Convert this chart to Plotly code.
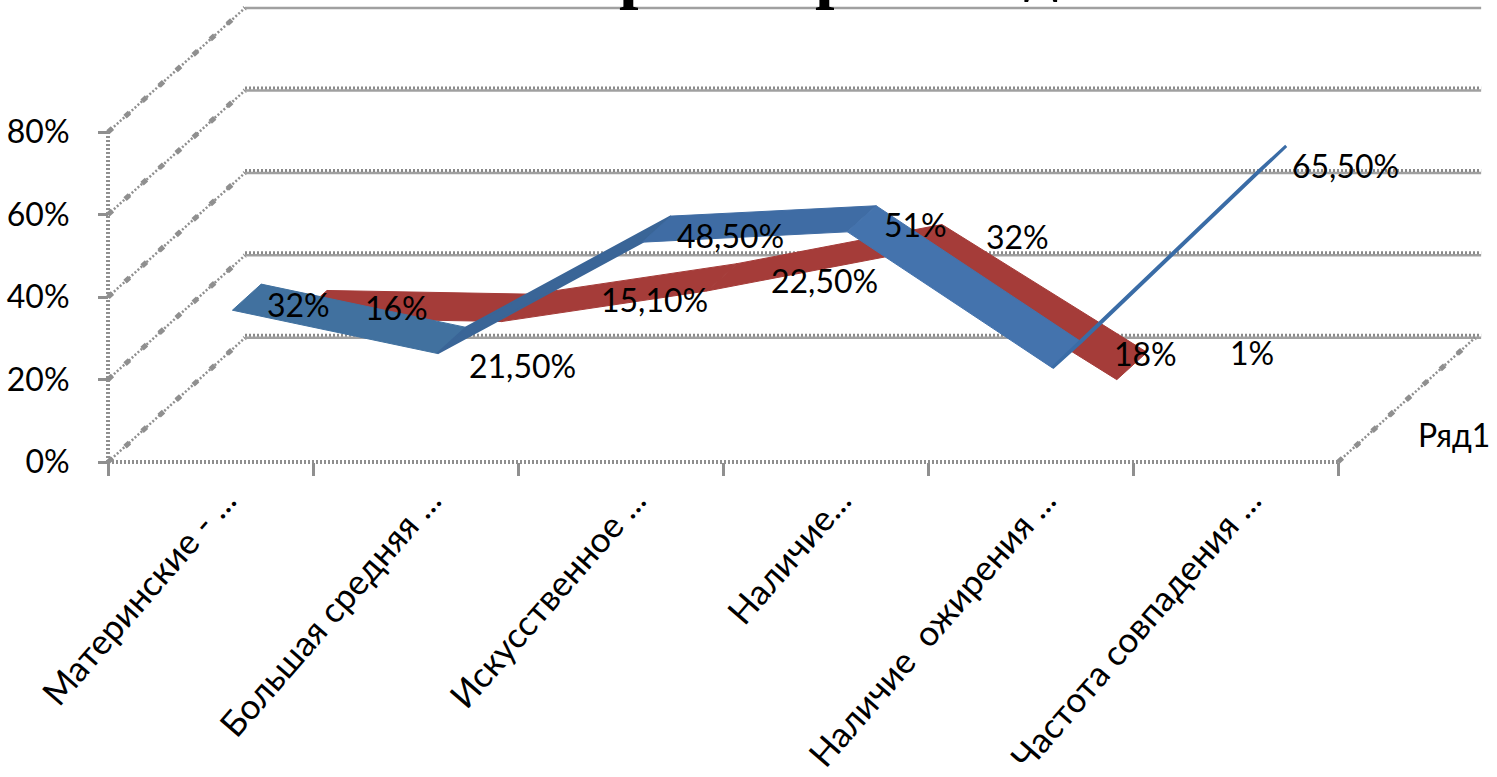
import plotly.graph_objects as go

# ---- data ----
categories = ["Материнские - ...", "Большая средняя ...", "Искусственное ...",
              "Наличие...", "Наличие  ожирения ...", "Частота совпадения ..."]
blue_values = [32, 21.5, 48.5, 51, 18, 65.5]
red_values = [16, 15.1, 22.5, 32, 1]
blue_labels = ["32%", "21,50%", "48,50%", "51%", "18%", "65,50%"]
red_labels = ["16%", "15,10%", "22,50%", "32%", "1%"]
y_ticks = [0, 20, 40, 60, 80]
y_tick_text = ["0%", "20%", "40%", "60%", "80%"]
series_name = "Ряд1"
title_glyphs = ["р", "р", "д"]

# ---- layout / oblique projection ----
W, H = 1497, 777
X0_PX, Y0_PX = 108, 465
PX_PER_CAT, PX_PER_PCT = 205, 4.15
DEPTH_X = 137 / PX_PER_CAT            # wall depth in category units
DEPTH_Y = 125 / PX_PER_PCT            # wall depth in percent units
BLUE_T = (0.16, 0.37)
RED_T = (0.63, 0.85)
GRAY = "#8f8f8f"
FONT = "Lato, sans-serif"
LABEL_SIZE = 32


def proj(cat, val, t):
    return cat + t * DEPTH_X, val + t * DEPTH_Y


fig = go.Figure()


def line(xs, ys, width=2, dash="solid", color=GRAY):
    fig.add_trace(go.Scatter(x=xs, y=ys, mode="lines", hoverinfo="skip", showlegend=False,
                             line=dict(color=color, width=width, dash=dash)))


# walls and floor
n = len(categories)
x_end = n + DEPTH_X + 0.03
for v in y_ticks:
    bx, by = proj(0, v, 1)
    line([0, bx], [v, by], 2.5, "2px,2px")
    line([0, bx], [v, by], 5, "6px,17px")
    line([bx, x_end], [by, by], 2.5, "solid", "#a0a0a0")
    if v != 80:
        line([bx, x_end], [by + 0.6, by + 0.6], 3, "2px,2px", "#8a8a8a")
line([0, 0], [0, 80], 4, "2px,2px")
line([0, n], [0, 0], 4, "2px,2px")
rx, ry = proj(n, 0, 1)
line([n, rx], [0, ry], 2.5, "2px,2px")
line([n, rx], [0, ry], 5, "6px,17px")


def ribbon(values, ts, colors, widths):
    for i in range(len(values) - 1):
        c0, c1 = i + 0.5, i + 1.5
        a = proj(c0, values[i], ts[0])
        b = proj(c1, values[i + 1], ts[0])
        c = proj(c1, values[i + 1], ts[1])
        d = proj(c0, values[i], ts[1])
        fig.add_trace(go.Scatter(
            x=[a[0], b[0], c[0], d[0], a[0]], y=[a[1], b[1], c[1], d[1], a[1]],
            mode="lines", fill="toself", fillcolor=colors[i], hoverinfo="skip", showlegend=False,
            line=dict(color=colors[i], width=widths[i])))


ribbon(red_values, RED_T, ["#a53c39", "#a53c39", "#a53c39", "#a53c39"], [1, 1, 1, 1])
ribbon(blue_values, BLUE_T, ["#41719f", "#3a6597", "#3f6ca4", "#4473ad", "#3a6ca6"], [1, 2, 1, 1, 3])

# data labels (pixel offsets from the point they belong to)
blue_off = [(52, 7), (71, 25), (74, 6), (54, 6), (79, -1), (74, 6)]
red_off = [(85, 3), (138, -8), (103, 3), (91, -2), (120, -13)]
tm_b = sum(BLUE_T) / 2
tm_r = sum(RED_T) / 2
for vals, labs, offs, tm in ((blue_values, blue_labels, blue_off, tm_b),
                             (red_values, red_labels, red_off, tm_r)):
    for i, (v, lab, off) in enumerate(zip(vals, labs, offs)):
        px, py = proj(i + 0.5, v, tm)
        fig.add_annotation(x=px, y=py, text=lab, showarrow=False, xshift=off[0], yshift=-off[1],
                           font=dict(family=FONT, size=LABEL_SIZE, color="black"))

# series axis label
sx, sy = proj(n, 0, 0.85)
fig.add_annotation(x=sx, y=sy, text=series_name, showarrow=False, xshift=0, yshift=-78,
                   font=dict(family=FONT, size=LABEL_SIZE, color="black"))

# clipped title: only the descenders are visible in the picture
for g, px, ys in zip(title_glyphs, [638, 834, 1060], [-12, -12, -7]):
    fig.add_annotation(xref="paper", yref="paper", x=px / W, y=1, yanchor="bottom", yshift=ys,
                       text="<b>" + g + "</b>", showarrow=False,
                       font=dict(family="Liberation Serif", size=70, color="black"))

fig.update_layout(
    width=W, height=H, autosize=False, margin=dict(l=0, r=0, t=0, b=0),
    paper_bgcolor="white", plot_bgcolor="white", showlegend=False,
    xaxis=dict(
        domain=[0, 1], range=[-X0_PX / PX_PER_CAT, (W - X0_PX) / PX_PER_CAT],
        anchor="free", position=(H - Y0_PX) / H,
        tickmode="array", tickvals=[i + 0.57 for i in range(n)], ticktext=categories,
        tickangle=-49, ticks="", showgrid=False, zeroline=False, showline=False,
        ticklabelstandoff=10, tickfont=dict(family=FONT, size=LABEL_SIZE + 3, color="black"),
        minor=dict(tickmode="array", tickvals=list(range(n + 1)), ticks="outside",
                   ticklen=13, tickwidth=3, tickcolor=GRAY, showgrid=False),
    ),
    yaxis=dict(
        domain=[0, 1], range=[-(H - Y0_PX) / PX_PER_PCT, Y0_PX / PX_PER_PCT],
        anchor="free", position=X0_PX / W,
        tickmode="array", tickvals=y_ticks, ticktext=y_tick_text,
        ticks="outside", ticklen=10, tickwidth=3, tickcolor=GRAY,
        showgrid=False, zeroline=False, showline=False, ticklabelstandoff=22,
        tickfont=dict(family=FONT, size=LABEL_SIZE, color="black"),
    ),
)

fig.write_html("out.html", default_width="1497px", default_height="777px",
               config={"displayModeBar": False},
               post_script="document.body.style.margin='0';document.documentElement.style.overflow='hidden';")
